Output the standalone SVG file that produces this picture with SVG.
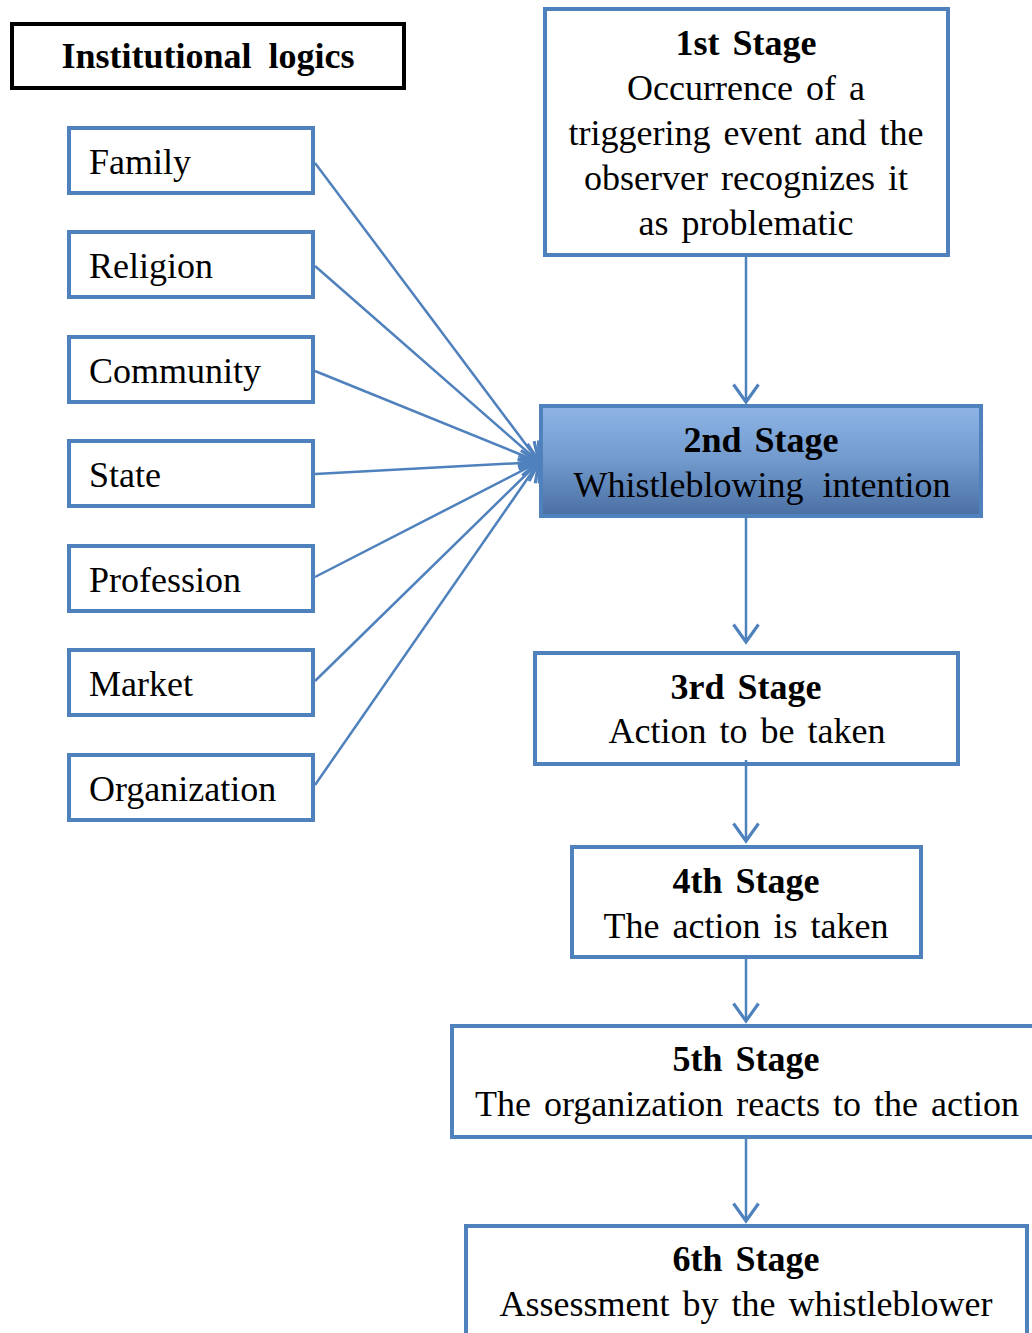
<svg xmlns="http://www.w3.org/2000/svg" width="1032" height="1333" viewBox="0 0 1032 1333">
<defs>
<style>
.box{fill:#fff;stroke:#4f81bd;stroke-width:4}
.t{font-family:"Liberation Serif","Times New Roman",serif;font-size:36px;fill:#000;text-anchor:middle;word-spacing:4px}
.b{font-weight:bold}
.l{font-family:"Liberation Serif","Times New Roman",serif;font-size:36px;fill:#000}
.c{stroke:#4f81bd;stroke-width:2.5;fill:none;marker-end:url(#ah)}
</style>
<linearGradient id="g2" x1="0" y1="0" x2="0" y2="1">
<stop offset="0" stop-color="#8fb5e6"/>
<stop offset="0.5" stop-color="#7199cc"/>
<stop offset="1" stop-color="#4a6fa3"/>
</linearGradient>
<marker id="ah" markerUnits="userSpaceOnUse" markerWidth="30" markerHeight="30" viewBox="-16 -12 20 24" refX="0" refY="0" orient="auto">
<path d="M-14,-10 L0,0 L-14,10" fill="none" stroke="#4f81bd" stroke-width="2.5"/>
</marker>
</defs>
<g id="title">
<rect x="12" y="24" width="392" height="64" fill="#fff" stroke="#000" stroke-width="4"/>
<text class="t b" x="208" y="68" style="word-spacing:8px">Institutional logics</text>
</g>
<g id="family"><rect class="box" x="69" y="128" width="244" height="65"/><text class="l" x="89" y="174">Family</text></g>
<g id="religion"><rect class="box" x="69" y="232" width="244" height="65"/><text class="l" x="89" y="278">Religion</text></g>
<g id="community"><rect class="box" x="69" y="337" width="244" height="65"/><text class="l" x="89" y="383">Community</text></g>
<g id="state"><rect class="box" x="69" y="441" width="244" height="65"/><text class="l" x="89" y="487">State</text></g>
<g id="profession"><rect class="box" x="69" y="546" width="244" height="65"/><text class="l" x="89" y="592">Profession</text></g>
<g id="market"><rect class="box" x="69" y="650" width="244" height="65"/><text class="l" x="89" y="696">Market</text></g>
<g id="organization"><rect class="box" x="69" y="755" width="244" height="65"/><text class="l" x="89" y="801">Organization</text></g>
<g id="stage1">
<rect class="box" x="545" y="9" width="403" height="246"/>
<text class="t b" x="746" y="55">1st Stage</text>
<text class="t" x="746" y="100">Occurrence of a</text>
<text class="t" x="746" y="145">triggering event and the</text>
<text class="t" x="746" y="190">observer recognizes it</text>
<text class="t" x="746" y="235">as problematic</text>
</g>
<g id="stage2">
<rect x="541" y="406" width="440" height="110" fill="url(#g2)" stroke="#4f81bd" stroke-width="4"/>
<text class="t b" x="761" y="452">2nd Stage</text>
<text class="t" x="762" y="497" style="word-spacing:10px">Whistleblowing intention</text>
</g>
<g id="stage3">
<rect class="box" x="535" y="653" width="423" height="111"/>
<text class="t b" x="746" y="699">3rd Stage</text>
<text class="t" x="747" y="743">Action to be taken</text>
</g>
<g id="stage4">
<rect class="box" x="572" y="847" width="349" height="110"/>
<text class="t b" x="746" y="893">4th Stage</text>
<text class="t" x="746" y="938">The action is taken</text>
</g>
<g id="stage5">
<rect class="box" x="452" y="1026" width="600" height="111"/>
<text class="t b" x="746" y="1071">5th Stage</text>
<text class="t" x="747" y="1116">The organization reacts to the action</text>
</g>
<g id="stage6">
<rect class="box" x="466" y="1226" width="561" height="130"/>
<text class="t b" x="746" y="1271">6th Stage</text>
<text class="t" x="746" y="1316">Assessment by the whistleblower</text>
</g>
<g id="connectors">
<line class="c" x1="746" y1="257" x2="746" y2="402"/>
<line class="c" x1="746" y1="518" x2="746" y2="642"/>
<line class="c" x1="746" y1="760" x2="746" y2="841"/>
<line class="c" x1="746" y1="955" x2="746" y2="1021"/>
<line class="c" x1="746" y1="1139" x2="746" y2="1221"/>
<line class="c" x1="315" y1="163" x2="539" y2="462"/>
<line class="c" x1="315" y1="266" x2="539" y2="462"/>
<line class="c" x1="315" y1="371" x2="539" y2="462"/>
<line class="c" x1="315" y1="474" x2="539" y2="462"/>
<line class="c" x1="315" y1="577" x2="539" y2="462"/>
<line class="c" x1="315" y1="681" x2="539" y2="462"/>
<line class="c" x1="315" y1="785" x2="539" y2="462"/>
</g>
</svg>
